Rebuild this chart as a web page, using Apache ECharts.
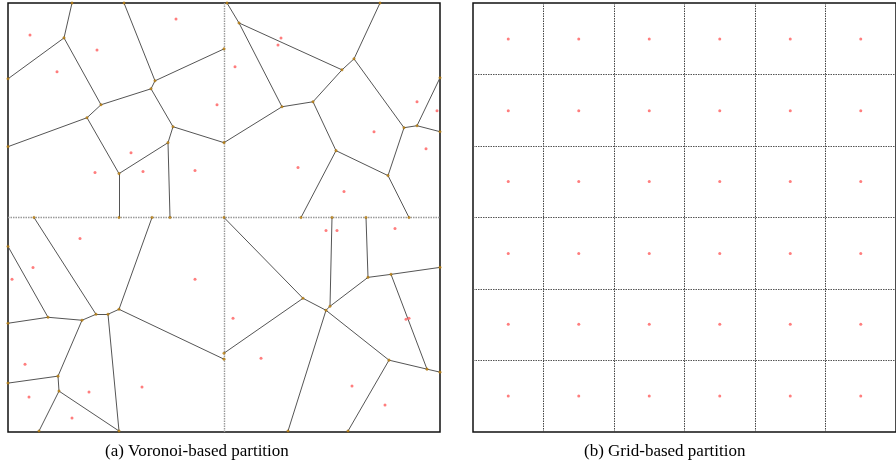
<!DOCTYPE html>
<html>
<head>
<meta charset="utf-8">
<title>Voronoi vs grid partition</title>
<script src="https://cdn.jsdelivr.net/npm/echarts@6/dist/echarts.min.js"></script>
<style>
  html, body { margin: 0; padding: 0; background: #fff; }
  #chart { width: 896px; height: 471px; }
</style>
</head>
<body>
<div id="chart"></div>
<script>
/* -----------------------------
   Voronoi-based vs grid-based partition
   ----------------------------- */

// Panel domain (same units for both panels, y measured from the top)
const PANEL_W = 432;
const PANEL_H = 430;

// Voronoi cell edges, one row per segment: [x1, y1, x2, y2]
const voronoiEdges = [
  // top-left quadrant
  [64, 0, 56, 35], [56, 35, 0, 76], [56, 35, 93, 102], [116, 0, 147, 78],
  [147, 78, 216, 46], [147, 78, 143, 86], [143, 86, 93, 102], [143, 86, 165, 124],
  [93, 102, 79, 115], [79, 115, 0, 144], [79, 115, 111, 171], [111, 171, 160, 140],
  [111, 171, 111, 215], [160, 140, 165, 124], [160, 140, 162, 215], [165, 124, 216, 140],
  // top-right quadrant
  [219, 0, 231, 20], [231, 20, 334, 67], [231, 20, 274, 104], [372, 0, 346, 56],
  [346, 56, 334, 67], [346, 56, 396, 125], [334, 67, 305, 99], [305, 99, 274, 104],
  [305, 99, 328, 148], [274, 104, 216, 140], [328, 148, 380, 173], [328, 148, 293, 215],
  [380, 173, 396, 125], [380, 173, 401, 215], [396, 125, 409, 123], [409, 123, 432, 75],
  [409, 123, 432, 129],
  // bottom-left quadrant
  [26, 215, 88, 312], [0, 244, 40, 315], [40, 315, 0, 321], [40, 315, 74, 318],
  [74, 318, 88, 312], [74, 318, 50, 374], [88, 312, 100, 312], [100, 312, 111, 307],
  [100, 312, 111, 429], [111, 307, 144, 215], [111, 307, 216, 357], [50, 374, 0, 381],
  [50, 374, 51, 389], [51, 389, 31, 429], [51, 389, 111, 429],
  // bottom-right quadrant
  [216, 215, 295, 296], [295, 296, 318, 308], [295, 296, 216, 351], [324, 215, 322, 304],
  [322, 304, 318, 308], [322, 304, 360, 275], [358, 215, 360, 275], [360, 275, 383, 272],
  [383, 272, 432, 265], [383, 272, 419, 367], [318, 308, 381, 358], [318, 308, 280, 429],
  [381, 358, 419, 367], [381, 358, 340, 429], [419, 367, 432, 370]
];

// Voronoi sites (red points)
const voronoiSites = [
  [22, 32], [89, 47], [49, 69], [168, 16], [209, 102], [123, 150], [87, 170], [135, 169], [187, 168],
  [273, 35], [270, 42], [227, 64], [409, 99], [429, 108], [366, 129], [418, 146], [290, 165], [336, 189],
  [72, 236], [25, 265], [4, 277], [187, 277], [17, 362], [21, 395], [81, 390], [134, 385], [64, 416],
  [318, 228], [329, 228], [387, 226], [225, 316], [398, 317], [401, 316], [253, 356], [344, 384], [377, 403]
];

// Grid partition: cell centres along each axis
const gridColCenters = [36, 108, 180, 252, 324, 396];
const gridRowCenters = [36, 108, 179, 251, 322, 394];

const captions = ["(a) Voronoi-based partition", "(b) Grid-based partition"];

// Vertex dots are the unique endpoints of the edges
const vertexPts = [];
const seen = new Set();
voronoiEdges.forEach(e => {
  [[e[0], e[1]], [e[2], e[3]]].forEach(p => {
    const key = p.join(",");
    if (!seen.has(key)) {
      seen.add(key);
      vertexPts.push(p);
    }
  });
});

const gridSites = [];
gridRowCenters.forEach(y => gridColCenters.forEach(x => gridSites.push([x, y])));

const chart = echarts.init(document.getElementById("chart"), null, { renderer: "canvas" });

const hiddenAxis = (min, max, interval, inverse, color, width, dash) => ({
  type: "value",
  min: min,
  max: max,
  interval: interval,
  inverse: inverse,
  axisLine: { show: false },
  axisTick: { show: false },
  axisLabel: { show: false },
  splitLine: {
    show: true,
    showMinLine: false,
    showMaxLine: false,
    lineStyle: { color: color, width: width, type: dash }
  }
});

chart.setOption({
  animation: false,
  backgroundColor: "#fff",
  grid: [
    { left: 8, top: 3, width: 432, height: 429, show: true, borderColor: "#111", borderWidth: 1.5, backgroundColor: "transparent" },
    { left: 473, top: 3, width: 432, height: 429, show: true, borderColor: "#111", borderWidth: 1.5, backgroundColor: "transparent" }
  ],
  xAxis: [
    Object.assign(hiddenAxis(0, PANEL_W, PANEL_W / 2, false, "#999", 1.4, [1.5, 1]), { gridIndex: 0 }),
    Object.assign(hiddenAxis(0, PANEL_W, PANEL_W / 6, false, "#444", 1, [1.5, 1]), { gridIndex: 1 })
  ],
  yAxis: [
    Object.assign(hiddenAxis(0, PANEL_H, PANEL_H / 2, true, "#999", 1.4, [1.5, 1]), { gridIndex: 0 }),
    Object.assign(hiddenAxis(0, PANEL_H, PANEL_H / 6, true, "#555", 1.1, [1.5, 1]), { gridIndex: 1 })
  ],
  series: [
    {
      name: "Voronoi edges",
      type: "lines",
      coordinateSystem: "cartesian2d",
      xAxisIndex: 0,
      yAxisIndex: 0,
      silent: true,
      z: 2,
      lineStyle: { color: "#555", width: 1, opacity: 1 },
      data: voronoiEdges.map(e => ({ coords: [[e[0], e[1]], [e[2], e[3]]] }))
    },
    {
      name: "Voronoi vertices",
      type: "scatter",
      xAxisIndex: 0,
      yAxisIndex: 0,
      symbolSize: 2.6,
      z: 3,
      itemStyle: { color: "#c98a12", borderColor: "#7a5200", borderWidth: 0.3 },
      data: vertexPts
    },
    {
      name: "Voronoi sites",
      type: "scatter",
      xAxisIndex: 0,
      yAxisIndex: 0,
      symbolSize: 3,
      z: 4,
      itemStyle: { color: "#ff6666", opacity: 0.85 },
      data: voronoiSites
    },
    {
      name: "Grid sites",
      type: "scatter",
      xAxisIndex: 1,
      yAxisIndex: 1,
      symbolSize: 3,
      z: 4,
      itemStyle: { color: "#ff6666", opacity: 0.85 },
      data: gridSites
    }
  ],
  graphic: captions.map((t, i) => ({
    type: "text",
    left: i === 0 ? 105 : 584,
    top: 443,
    style: {
      text: t,
      fill: "#000",
      font: "17px 'Liberation Serif', 'DejaVu Serif', serif"
    }
  }))
});
</script>
</body>
</html>
